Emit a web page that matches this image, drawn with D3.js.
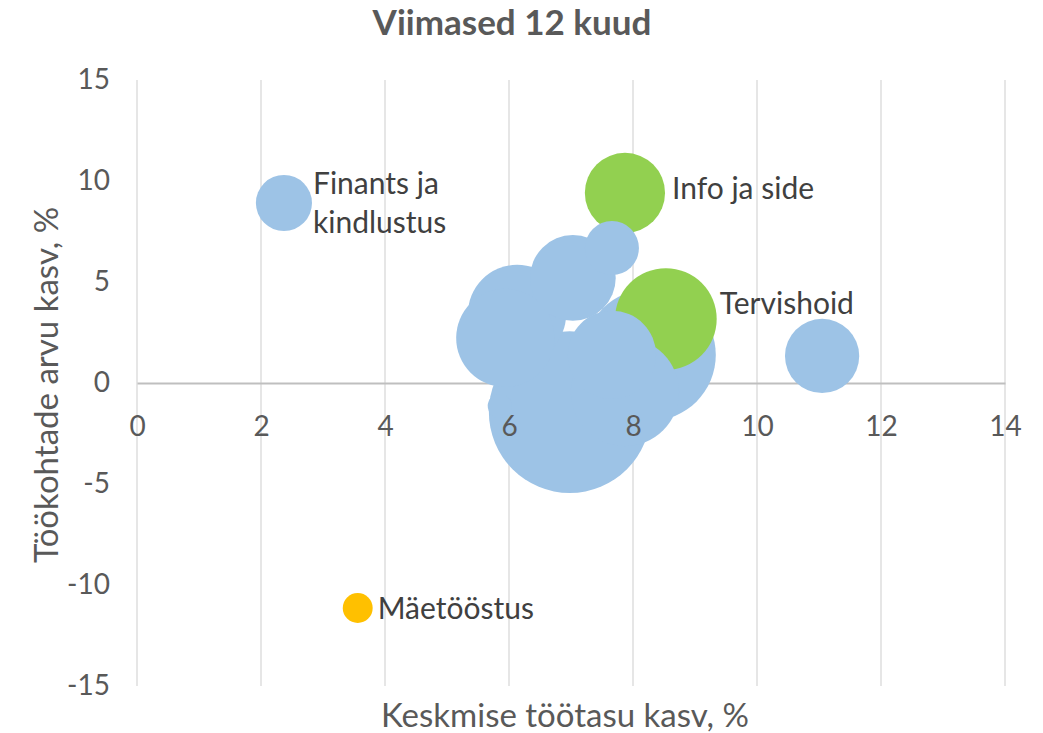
<!DOCTYPE html>
<html>
<head>
<meta charset="utf-8">
<script src="https://cdn.jsdelivr.net/npm/d3@7"></script>
<style>
  body { margin: 0; background: #fff; }
  #chart { width: 1043px; height: 733px; }
  text { font-family: Lato, "Open Sans", sans-serif; }
</style>
</head>
<body>
<div id="chart"></div>
<script>
/* * * * * * * * * * * * * *
*   Bubble: viimased 12 kuud  *
* * * * * * * * * * * * * */

// average wage growth (%), jobs growth (%), bubble size (number of workers, thousands)
// order = drawing order
const wageGrowth = [6.98, 8.27, 11.05, 7.87, 8.53, 7.87, 7.66, 6.13, 5.94, 7.03, 7.66, 2.37, 5.85, 3.56];
const jobGrowth  = [-1.44, 1.39, 1.34, 9.41, 3.17, -0.45, 1.39, 3.42, 2.23, 5.20, 6.68, 8.91, -1.14, -11.14];
const workers    = [114, 76, 24, 28, 45, 51, 34, 42, 42, 32, 12.7, 13.7, 2.5, 3.9];
const groups     = ["muu", "muu", "muu", "kasv", "kasv", "muu", "muu", "muu", "muu", "muu", "muu", "muu", "muu", "langus"];
const labels     = ["", "", "", "Info ja side", "Tervishoid", "", "", "", "", "", "", "Finants ja\nkindlustus", "", "Mäetööstus"];

const xTicks = [0, 2, 4, 6, 8, 10, 12, 14];
const yTicks = [-15, -10, -5, 0, 5, 10, 15];

const groupColors = {muu: "#9dc3e6", kasv: "#92d050", langus: "#ffc000"};

// labels that were dragged a bit in the original (pixels)
const labelNudge = {"Info ja side": [2, -4], "Tervishoid": [-2, -15], "Finants ja\nkindlustus": [-4, 0]};

let margin = {top: 80, right: 38, bottom: 47, left: 137};
let width = 1043 - margin.left - margin.right;
let height = 733 - margin.top - margin.bottom;

let svg = d3.select("#chart").append("svg")
    .attr("width", 1043)
    .attr("height", 733);

let g = svg.append("g")
    .attr("transform", "translate(" + margin.left + "," + margin.top + ")");

// scales
let x = d3.scaleLinear().domain([0, 14]).range([0, width]);
let y = d3.scaleLinear().domain([-15, 15]).range([height, 0]);
let r = d3.scaleSqrt().domain([0, 120]).range([0, 83]);

// vertical gridlines
g.append("g")
    .selectAll("line")
    .data(xTicks)
    .enter().append("line")
    .attr("x1", d => x(d))
    .attr("x2", d => x(d))
    .attr("y1", 0)
    .attr("y2", height)
    .attr("stroke", "#d9d9d9")
    .attr("stroke-width", 1.3);

// horizontal axis line at y = 0 (below the bubbles)
let xAxis = d3.axisBottom(x).tickValues(xTicks).tickSize(0).tickPadding(33)
    .tickFormat(d => String(d));
let xLineGroup = g.append("g")
    .attr("transform", "translate(0," + y(0) + ")")
    .call(xAxis);
xLineGroup.selectAll(".tick").remove();
xLineGroup.select(".domain").attr("stroke", "#bfbfbf").attr("stroke-width", 2);

// bubbles
let data = wageGrowth.map((d, i) => ({
    x: d, y: jobGrowth[i], size: workers[i], group: groups[i], label: labels[i]
}));

g.selectAll(".bubble")
    .data(data)
    .enter().append("circle")
    .attr("class", "bubble")
    .attr("cx", d => x(d.x))
    .attr("cy", d => y(d.y))
    .attr("r", d => r(d.size))
    .attr("fill", d => groupColors[d.group]);

// tick labels on top of the bubbles
let xAxisGroup = g.append("g")
    .attr("transform", "translate(0," + y(0) + ")")
    .call(xAxis);
xAxisGroup.select(".domain").remove();
xAxisGroup.selectAll("text")
    .attr("fill", "#595959")
    .style("font-size", "28px");

let yAxis = d3.axisLeft(y).tickValues(yTicks).tickSize(0).tickPadding(27)
    .tickFormat(d => String(d));
let yAxisGroup = g.append("g").call(yAxis);
yAxisGroup.select(".domain").remove();
yAxisGroup.selectAll("text")
    .attr("fill", "#595959")
    .style("font-size", "28px");

// data labels to the right of the bubble
let lab = g.selectAll(".dlabel")
    .data(data.filter(d => d.label !== ""))
    .enter().append("text")
    .attr("class", "dlabel")
    .attr("fill", "#404040")
    .style("font-size", "30px")
    .attr("y", d => y(d.y) + (labelNudge[d.label] ? labelNudge[d.label][1] : 0));

lab.each(function (d) {
    let lines = d.label.split("\n");
    let el = d3.select(this);
    let lx = x(d.x) + r(d.size) + 5 + (labelNudge[d.label] ? labelNudge[d.label][0] : 0);
    lines.forEach((line, i) => {
        el.append("tspan")
            .attr("x", lx)
            .attr("dy", i === 0 ? (0.35 - (lines.length - 1) * 0.65) + "em" : "1.3em")
            .text(line);
    });
});

// title
svg.append("text")
    .attr("x", 512)
    .attr("y", 35)
    .attr("text-anchor", "middle")
    .attr("fill", "#595959")
    .style("font-size", "35px")
    .style("font-weight", "bold")
    .text("Viimased 12 kuud");

// axis titles
svg.append("text")
    .attr("x", margin.left + width / 2 - 6)
    .attr("y", 727)
    .attr("text-anchor", "middle")
    .attr("fill", "#595959")
    .style("font-size", "33px")
    .text("Keskmise töötasu kasv, %");

svg.append("text")
    .attr("transform", "translate(58," + (margin.top + height / 2 + 2) + ") rotate(-90)")
    .attr("text-anchor", "middle")
    .attr("fill", "#595959")
    .style("font-size", "33px")
    .text("Töökohtade arvu kasv, %");
</script>
</body>
</html>
